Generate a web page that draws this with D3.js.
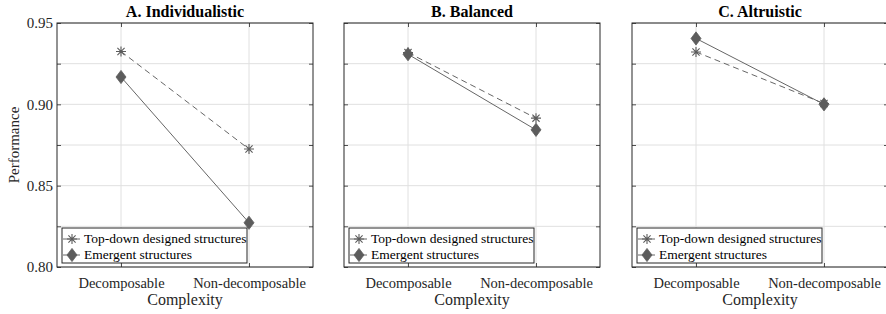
<!DOCTYPE html>
<html lang="en">
<head>
    <meta charset="UTF-8">
    <title>Performance by complexity</title>
    <script src="https://cdn.jsdelivr.net/npm/d3@7/dist/d3.min.js"></script>
    <style>
        body { margin: 0; background: #fff; }
        svg text { font-family: "Liberation Serif", "Times New Roman", Times, serif; }
    </style>
</head>
<body>
<svg width="886" height="314"></svg>
<script>
    // data
    var panels = ["A. Individualistic", "B. Balanced", "C. Altruistic"];
    var categories = ["Decomposable", "Non-decomposable"];
    var seriesNames = ["Top-down designed structures", "Emergent structures"];
    var topDown = [[0.9325, 0.8725], [0.9318, 0.8915], [0.9322, 0.9005]];
    var emergent = [[0.9168, 0.8272], [0.9308, 0.8843], [0.9405, 0.9000]];
    var yTicks = [0.800, 0.825, 0.850, 0.875, 0.900, 0.925, 0.950];

    var serif = "'Liberation Serif', 'Times New Roman', Times, serif";
    var svg = d3.select("svg").attr("font-family", serif);
    var lefts = [57, 344, 632],
        pw = 256, plotTop = 23, plotBottom = 267;

    var axisCol = "#262626", gridCol = "#e0e0e0", markCol = "#5c5c5c", lineCol = "#666";

    var y = d3.scaleLinear().domain([0.80, 0.95]).range([plotBottom, plotTop]);

    var diamond = "M0,-6.6L5,0L0,6.6L-5,0Z";
    var star = "M-5,0H5M0,-5V5M-3.6,-3.6L3.6,3.6M-3.6,3.6L3.6,-3.6";

    function drawMarker(g, kind, cx, cy) {
        if (kind === 0) {
            g.append("path").attr("d", star)
                .attr("transform", `translate(${cx},${cy})`)
                .attr("fill", "none").attr("stroke", markCol).attr("stroke-width", 1.1);
        } else {
            g.append("path").attr("d", diamond)
                .attr("transform", `translate(${cx},${cy})`)
                .attr("fill", markCol).attr("stroke", markCol).attr("stroke-width", 0.8);
        }
    }

    panels.forEach(function(title, p) {
        var x0 = lefts[p];
        var x = d3.scalePoint().domain(categories).range([x0, x0 + pw]).padding(0.5);
        var g = svg.append("g");

        // grid
        g.append("g").selectAll("line").data(yTicks).join("line")
            .attr("x1", x0).attr("x2", x0 + pw)
            .attr("y1", d => y(d)).attr("y2", d => y(d))
            .attr("stroke", gridCol).attr("stroke-width", 1);
        g.append("g").selectAll("line").data(categories).join("line")
            .attr("x1", d => x(d)).attr("x2", d => x(d))
            .attr("y1", plotTop).attr("y2", plotBottom)
            .attr("stroke", gridCol).attr("stroke-width", 1);

        // axes
        var yAxis = d3.axisLeft(y).tickValues(yTicks).tickSize(-4)
            .tickFormat(d => p === 0 && Math.round(d * 1000) % 50 === 0 ? d.toFixed(2) : "");
        var ya = g.append("g").attr("transform", `translate(${x0},0)`).call(yAxis);
        var yr = g.append("g").attr("transform", `translate(${x0 + pw},0)`)
            .call(d3.axisRight(y).tickValues(yTicks).tickSize(-4).tickFormat(""));
        var xa = g.append("g").attr("transform", `translate(0,${plotBottom})`)
            .call(d3.axisBottom(x).tickSize(-4).tickSizeOuter(0));
        var xt = g.append("g").attr("transform", `translate(0,${plotTop})`)
            .call(d3.axisTop(x).tickSize(-4).tickSizeOuter(0).tickFormat(""));
        [ya, yr, xa, xt].forEach(a => {
            a.attr("font-family", serif).attr("font-size", null);
            a.select(".domain").remove();
            a.selectAll("line").attr("stroke", axisCol).attr("stroke-width", 0.8);
        });
        ya.selectAll("text").attr("x", -4).attr("dy", "0.32em")
            .style("font-size", "15px").attr("fill", axisCol);
        xa.selectAll("text").attr("y", 11).attr("dy", "0.71em")
            .style("font-size", "14.5px").attr("fill", axisCol);

        g.append("rect").attr("x", x0).attr("y", plotTop).attr("width", pw).attr("height", plotBottom - plotTop)
            .attr("fill", "none").attr("stroke", axisCol).attr("stroke-width", 1);

        // series
        var line = d3.line().x((d, i) => x(categories[i])).y(d => y(d));
        g.append("path").attr("d", line(topDown[p])).attr("fill", "none")
            .attr("stroke", lineCol).attr("stroke-width", 1).attr("stroke-dasharray", "6,4");
        g.append("path").attr("d", line(emergent[p])).attr("fill", "none")
            .attr("stroke", lineCol).attr("stroke-width", 1);
        topDown[p].forEach((v, i) => drawMarker(g, 0, x(categories[i]), y(v)));
        emergent[p].forEach((v, i) => drawMarker(g, 1, x(categories[i]), y(v)));

        // title
        g.append("text").attr("x", x0 + pw / 2).attr("y", plotTop - 6)
            .attr("text-anchor", "middle").style("font-size", "16px").style("font-weight", "bold")
            .attr("fill", "#000").text(title);

        // x label
        g.append("text").attr("x", x0 + pw / 2).attr("y", 305)
            .attr("text-anchor", "middle").style("font-size", "16px").attr("fill", axisCol)
            .text("Complexity");

        // legend
        var lg = g.append("g").attr("transform", `translate(${x0 + 5},228)`);
        lg.append("rect").attr("width", 185).attr("height", 35)
            .attr("fill", "#fff").attr("stroke", axisCol).attr("stroke-width", 1);
        seriesNames.forEach(function(name, i) {
            var ly = 11 + i * 16;
            lg.append("line").attr("x1", 1).attr("x2", 18).attr("y1", ly).attr("y2", ly)
                .attr("stroke", lineCol).attr("stroke-width", 1);
            drawMarker(lg, i, 10, ly);
            lg.append("text").attr("x", 22).attr("y", ly).attr("dy", "0.32em")
                .style("font-size", "13.5px").attr("fill", "#000").text(name);
        });
    });

    // y label
    svg.append("text").attr("transform", `translate(19,${(plotTop + plotBottom) / 2}) rotate(-90)`)
        .attr("text-anchor", "middle").style("font-size", "15px").attr("fill", axisCol)
        .text("Performance");
</script>
</body>
</html>
